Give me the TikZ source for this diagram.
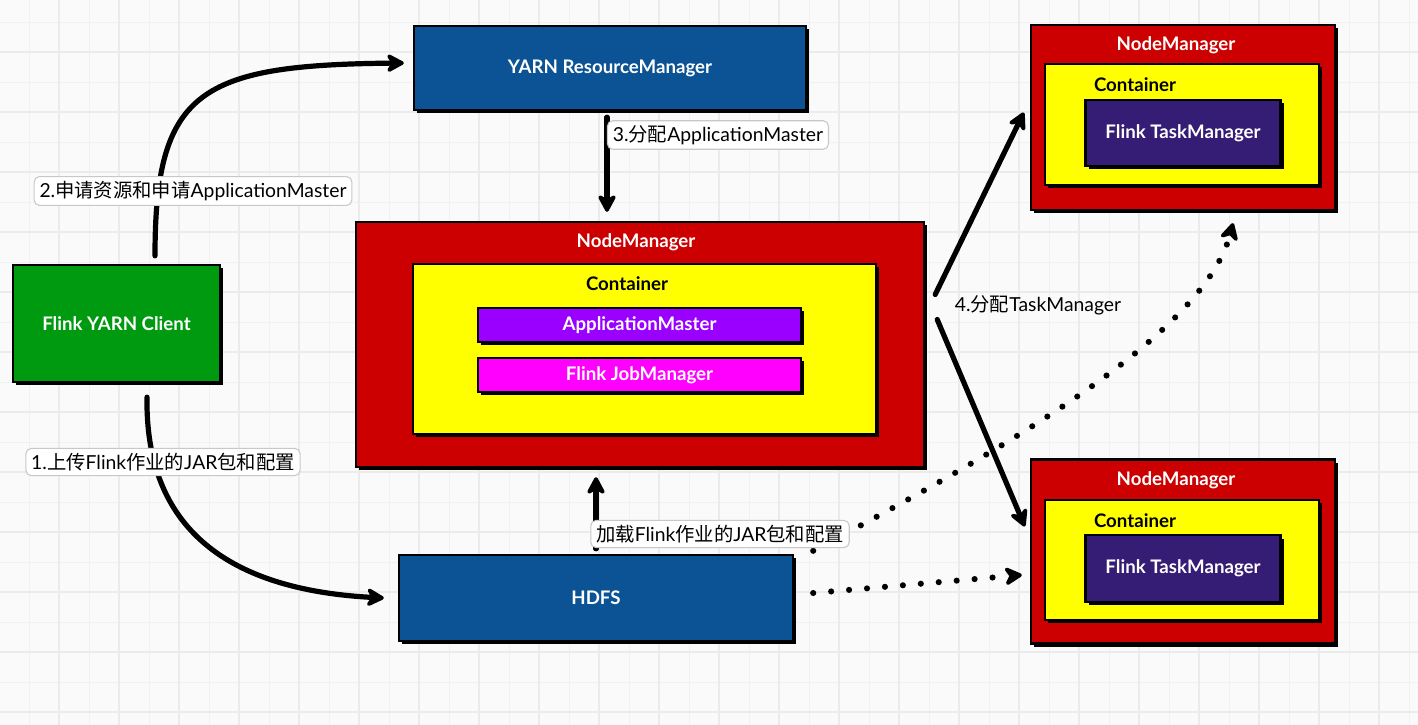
\documentclass[tikz,border=0pt]{standalone}
\usepackage{fontspec}
\setmainfont{Lato}
\newfontfamily\cjk{Noto Sans CJK SC}
\usetikzlibrary{arrows.meta,shadows,calc}
\definecolor{bgc}{HTML}{FAFAFA}
\definecolor{gminc}{HTML}{F1F1F1}
\definecolor{gmajc}{HTML}{EBEBEB}
\definecolor{clientg}{HTML}{009A10}
\definecolor{yblue}{HTML}{0B5394}
\definecolor{nmred}{HTML}{CC0000}
\definecolor{cyel}{HTML}{FFFF00}
\definecolor{ampur}{HTML}{9900FF}
\definecolor{jmmag}{HTML}{FF00FF}
\definecolor{tmpur}{HTML}{351C75}
\definecolor{lblborder}{HTML}{C8C8C8}
\tikzset{
  gminor/.style={draw=gminc, line width=0.75pt},
  gmajor/.style={draw=gmajc, line width=1.5pt},
  box/.style={draw=black, line width=1.8pt, inner sep=0pt,
    drop shadow={shadow xshift=2.5pt, shadow yshift=-2.5pt, fill=black, opacity=1}},
  boxtxt/.style={text=white, font=\fontsize{14}{16}\selectfont\bfseries},
  inner/.style={font=\fontsize{14}{16}\selectfont\bfseries, inner sep=0pt},
  lbl/.style={draw=lblborder, fill=white, rounded corners=4pt, line width=0.8pt,
    inner xsep=4pt, inner ysep=3.5pt, font=\fontsize{14.5}{17}\selectfont},
  plain/.style={font=\fontsize{14.5}{17}\selectfont, inner sep=0pt},
  arr/.style={draw=black, line width=3.9pt, line cap=round,
    -{Stealth[length=16pt,width=17pt,inset=5pt,round]}},
  dotarr/.style={draw=black, line width=4.6pt, line cap=round,
    dash pattern=on 0pt off 13.5pt,
    -{Stealth[length=16pt,width=17pt,inset=5pt,round]}}
}
\begin{document}
\begin{tikzpicture}[x=0.75pt,y=-0.75pt]
\useasboundingbox (0,0) rectangle (1418,725);
\fill[bgc] (0,0) rectangle (1418,725);
\foreach \x in {29,89,...,1418} \draw[gminor] (\x,0) -- (\x,725);
\foreach \y in {22,82,...,725} \draw[gminor] (0,\y) -- (1418,\y);
\foreach \x in {59,119,...,1418} \draw[gmajor] (\x,0) -- (\x,725);
\foreach \y in {52,112,...,725} \draw[gmajor] (0,\y) -- (1418,\y);

% main boxes
\node[box, fill=clientg, boxtxt, minimum width=155.25pt, minimum height=87.75pt] (client) at (116.5,323.5) {Flink YARN Client};
\node[box, fill=yblue, boxtxt, minimum width=294pt, minimum height=63pt] (rm) at (610,68) {YARN ResourceManager};
\node[box, fill=yblue, boxtxt, minimum width=295.5pt, minimum height=64.5pt] (hdfs) at (596,598) {HDFS};

% central NodeManager
\node[box, fill=nmred, minimum width=426pt, minimum height=183.75pt] (nm) at (640,344.5) {};
\node[box, fill=cyel, minimum width=347.25pt, minimum height=127.5pt] (cont) at (644.5,349) {};
\node[box, fill=ampur, boxtxt, minimum width=242.25pt, minimum height=25.5pt] (am) at (639.5,325) {ApplicationMaster};
\node[box, fill=jmmag, boxtxt, minimum width=242.25pt, minimum height=25.5pt] (jm) at (639.5,375) {Flink JobManager};
\node[inner, text=white] (nmt) at (636,242) {NodeManager};
\node[inner, text=black] (contt) at (627,284) {Container};

% right top NodeManager
\node[box, fill=nmred, minimum width=228pt, minimum height=138.75pt] (nm1) at (1183,117.5) {};
\node[box, fill=cyel, minimum width=205.5pt, minimum height=90.75pt] (c1) at (1182,124.5) {};
\node[box, fill=tmpur, boxtxt, minimum width=146.25pt, minimum height=49.5pt] (tm1) at (1183,133) {Flink TaskManager};
\node[inner, text=white] (nm1t) at (1176,45) {NodeManager};
\node[inner, text=black] (c1t) at (1135,85) {Container};

% right bottom NodeManager
\node[box, fill=nmred, minimum width=228pt, minimum height=138pt] (nm2) at (1183,551.5) {};
\node[box, fill=cyel, minimum width=205.5pt, minimum height=90pt] (c2) at (1182,560) {};
\node[box, fill=tmpur, boxtxt, minimum width=146.25pt, minimum height=50pt] (tm2) at (1183,568.5) {Flink TaskManager};
\node[inner, text=white] (nm2t) at (1176,480) {NodeManager};
\node[inner, text=black] (c2t) at (1135,521) {Container};

% connectors
\draw[arr] ($(client.north)+(38.5,-8)$) .. controls (155,90) and (200,65) .. ($(rm.west)+(-9,-5)$);
\draw[arr] ($(client.south)+(30.5,14)$) .. controls (145,530) and (230,590) .. ($(hdfs.west)+(-14,0)$);
\draw[arr] ($(rm.south)+(-3,6)$) -- ($(nm.north)+(-33,-9)$);
\draw[arr] ($(hdfs.north)+(0,-5)$) -- ($(nm.south)+(-44,9)$);
\draw[arr] ($(nm.east)+(10,-50)$) -- ($(nm1.west)+(-6,-5)$);
\draw[arr] ($(nm.east)+(12,-25)$) -- ($(nm2.west)+(-5,-25)$);
\draw[dotarr] ($(hdfs.east)+(19,-5)$) -- ($(nm2.west)+(-8,23.5)$);
\draw[dotarr] ($(hdfs.north east)+(19,-3)$) .. controls (988,458) and (1203,338) .. ($(nm1.south)+(50,12)$);

% labels
\node[lbl] (l2) at (193,191) {2.{\cjk 申请资源和申请}ApplicationMaster};
\node[lbl] (l1) at (163,462) {1.{\cjk 上传}Flink{\cjk 作业的}JAR{\cjk 包和配置}};
\node[lbl] (l3) at (718,135) {3.{\cjk 分配}ApplicationMaster};
\node[lbl] (lload) at (720,534) {{\cjk 加载}Flink{\cjk 作业的}JAR{\cjk 包和配置}};
\node[plain] (l4) at (1038,305) {4.{\cjk 分配}TaskManager};
\end{tikzpicture}
\end{document}
